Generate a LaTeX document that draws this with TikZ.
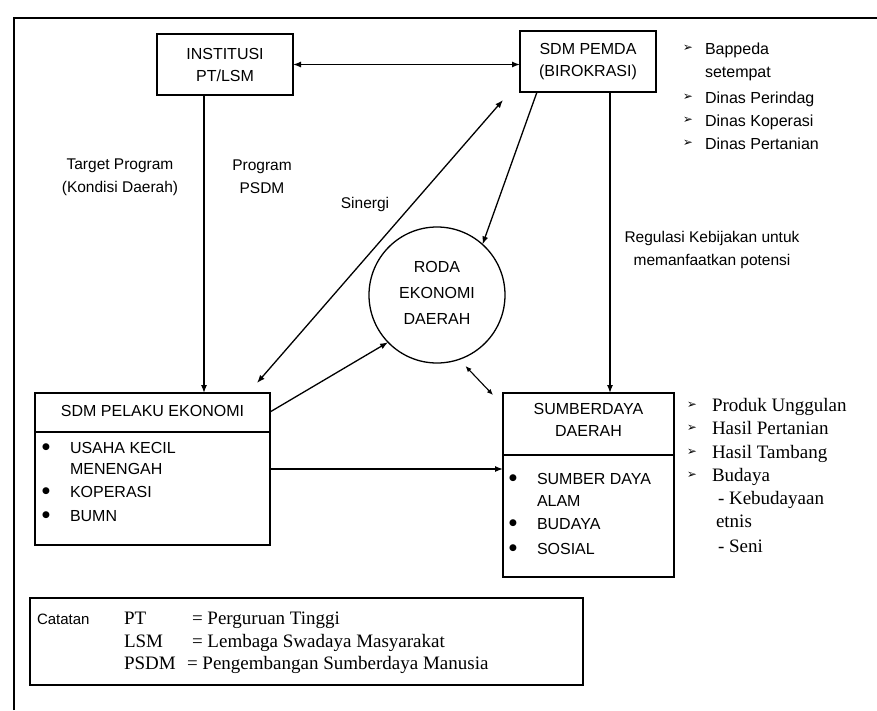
\documentclass[tikz,border=0pt]{standalone}
\usepackage{fontspec}
\setmainfont{Liberation Sans}
\newfontfamily\serifx{Liberation Serif}
\newfontfamily\symb{DejaVu Sans}
\usetikzlibrary{arrows.meta}
\begin{document}
\begin{tikzpicture}[x=1pt,y=-1pt,
  every node/.style={inner sep=0pt,outer sep=0pt},
  boxx/.style={draw,line width=1.3pt},
  txt/.style={font=\fontsize{15.5}{23}\selectfont},
  ttl/.style={font=\fontsize{16}{22}\selectfont,align=center},
  lst/.style={font=\fontsize{16}{20}\selectfont,anchor=base west},
  srf/.style={font=\serifx\fontsize{19}{23}\selectfont,anchor=base west},
  dot/.style={font=\symb\fontsize{9}{10}\selectfont},
  arw/.style={font=\symb\fontsize{12}{12}\selectfont},
  conn/.style={line width=1.3pt,-{Latex[length=8pt,width=6pt]}},
  dconn/.style={line width=1.3pt,{Latex[length=8pt,width=6pt]}-{Latex[length=8pt,width=6pt]}}]
\useasboundingbox (0,0) rectangle (877,710);
% outer frame
\draw[line width=1.2pt] (14,710) -- (14,18) -- (877,18);

% boxes
\node[boxx,minimum width=136,minimum height=61] (inst) at (225,64.5) {};
\node[ttl] (instt) at (225,64.5) {INSTITUSI\\PT/LSM};
\node[boxx,minimum width=136,minimum height=61] (pemda) at (588,61.5) {};
\node[ttl] (pemdat) at (588,61.5) {SDM PEMDA\\(BIROKRASI)};
\node[draw,circle,line width=1.3pt,minimum size=136] (roda) at (437,295) {};
\node[ttl,font=\fontsize{16}{26}\selectfont] (rodat) at (437,293) {RODA\\EKONOMI\\DAERAH};

\node[boxx,minimum width=235,minimum height=152] (pelaku) at (152.5,469) {};
\draw[line width=1.3pt] ([yshift=-39]pelaku.north west) -- ([yshift=-39]pelaku.north east);
\node[ttl] (pelakut) at (152.5,411) {SDM PELAKU EKONOMI};

\node[boxx,minimum width=171,minimum height=184] (sumber) at (588.5,485) {};
\draw[line width=1.3pt] ([yshift=-62]sumber.north west) -- ([yshift=-62]sumber.north east);
\node[ttl] (sumbert) at (588.5,420) {SUMBERDAYA\\DAERAH};

% connectors
\draw[dconn] (inst.east) -- (inst.east -| pemda.west);
\draw[conn] ([xshift=-21]inst.south) -- ([xshift=-21]inst.south |- pelaku.north);
\draw[conn] ([xshift=22]pemda.south) -- ([xshift=22]pemda.south |- sumber.north);
\draw[dconn] ([shift={(-13,-10)}]pelaku.north east) -- ([shift={(-17,8)}]pemda.south west);
\draw[conn] ([xshift=-51]pemda.south) -- (roda.48);
\draw[conn] ([yshift=57]pelaku.east) -- (roda.224);
\draw[conn] (pelaku.east) -- (pelaku.east -| sumber.west);
\draw[line width=1.1pt,{Latex[length=6pt,width=5pt]}-{Latex[length=6pt,width=5pt]}] ([shift={(3,8)}]roda.-68) -- ([shift={(-10,2)}]sumber.north west);

% labels
\node[txt,align=center] (lbl1) at (120,177) {Target Program\\(Kondisi Daerah)};
\node[txt,align=center] (lbl2) at (262,177) {Program\\PSDM};
\node[txt] (lbl3) at (365,204) {Sinergi};
\node[txt,align=center] (lbl4) at (712,250) {Regulasi Kebijakan untuk\\memanfaatkan potensi};

% top right list
\node[arw] (b1) at (688,48) {➢};
\node[lst] (t1) at (705,54) {Bappeda};
\node[lst] (t1b) at (705,77) {setempat};
\node[arw] (b2) at (688,97) {➢};
\node[lst] (t2) at (705,103) {Dinas Perindag};
\node[arw] (b3) at (688,120) {➢};
\node[lst] (t3) at (705,126) {Dinas Koperasi};
\node[arw] (b4) at (688,143) {➢};
\node[lst] (t4) at (705,149) {Dinas Pertanian};

% pelaku list
\node[dot] (p1) at (46,447) {●};
\node[lst] (pt1) at (70,453) {USAHA KECIL};
\node[lst] (pt1b) at (70,474) {MENENGAH};
\node[dot] (p2) at (46,491) {●};
\node[lst] (pt2) at (70,497) {KOPERASI};
\node[dot] (p3) at (46,515) {●};
\node[lst] (pt3) at (70,521) {BUMN};

% sumber list
\node[dot] (s1) at (513,478) {●};
\node[lst] (st1) at (537,484) {SUMBER DAYA};
\node[lst] (st1b) at (537,506) {ALAM};
\node[dot] (s2) at (513,523) {●};
\node[lst] (st2) at (537,529) {BUDAYA};
\node[dot] (s3) at (513,548) {●};
\node[lst] (st3) at (537,554) {SOSIAL};

% bottom right list
\node[arw] (r1) at (692,405) {➢};
\node[srf] (rt1) at (712,411) {Produk Unggulan};
\node[arw] (r2) at (692,428) {➢};
\node[srf] (rt2) at (712,434) {Hasil Pertanian};
\node[arw] (r3) at (692,452) {➢};
\node[srf] (rt3) at (712,458) {Hasil Tambang};
\node[arw] (r4) at (692,475) {➢};
\node[srf] (rt4) at (712,481) {Budaya};
\node[srf] (rt5) at (718,504) {- Kebudayaan};
\node[srf] (rt6) at (716,527) {etnis};
\node[srf] (rt7) at (718,552) {- Seni};

% legend
\node[boxx,minimum width=553,minimum height=87] (leg) at (306.5,641.5) {};
\node[lst,font=\fontsize{15}{20}\selectfont] (lg0) at (37,624) {Catatan};
\node[srf] (lg1) at (124,624) {PT};
\node[srf] (lg2) at (124,647) {LSM};
\node[srf] (lg3) at (124,669) {PSDM};
\node[srf] (lg1b) at (192,624) {= Perguruan  Tinggi};
\node[srf] (lg2b) at (192,647) {= Lembaga Swadaya Masyarakat};
\node[srf] (lg3b) at (187,669) {= Pengembangan Sumberdaya Manusia};
\end{tikzpicture}
\end{document}
